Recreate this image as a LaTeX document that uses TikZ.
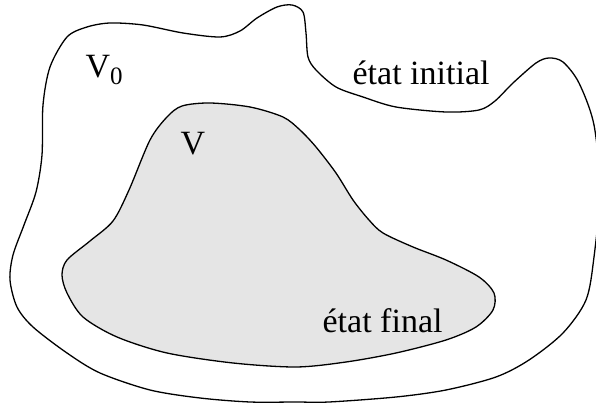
\documentclass[tikz,border=0pt]{standalone}
\usepackage{fontspec}
\setmainfont{Liberation Serif}
\begin{document}
\begin{tikzpicture}[x=0.5pt,y=-0.5pt, line width=0.65pt,
  lbl/.style={inner sep=0pt, anchor=base west, font=\fontsize{17}{20}\selectfont},
  region/.style={draw=black, line join=round}]
\useasboundingbox (0,0) rectangle (596,405);
\clip (0,0) rectangle (596,405);
% outer set V0
\draw[region] plot[smooth cycle, tension=0.5] coordinates {
 (43,105) (50,67) (67,37) (87,27) (110,23) (143,25) (183,33) (220,37) (240,31)
 (257,18) (277,7) (292,5) (303,12) (306,33) (308,57) (316,70) (336,87) (363,97)
 (396,107) (446,112) (479,110) (495,101) (513,83) (536,63) (549,58) (563,62)
 (579,83) (594,125) (600,190) (594,257) (586,300) (563,333) (529,360) (496,377)
 (446,390) (396,397) (329,402) (296,402) (250,402) (200,398) (150,390) (100,373)
 (67,353) (33,327) (17,307) (10,280) (13,255) (24,225) (36,192) (42,155)};
% inner set V
\filldraw[region, fill=black!10] plot[smooth cycle, tension=0.5] coordinates {
 (210,103) (250,107) (283,117) (300,130) (316,147) (336,173) (353,200) (369,220)
 (383,233) (413,247) (446,260) (479,277) (494,293) (493,310) (476,327) (446,340)
 (396,353) (346,362) (296,367) (233,363) (167,353) (117,337) (83,317) (67,293)
 (62,275) (67,260) (90,241) (113,221) (129,190) (150,140) (167,117) (182,106)};
\node[lbl] (v0) at (85,78) {V\raisebox{-3.5pt}{\fontsize{12.5}{14}\selectfont 0}};
\node[lbl] (v) at (180,155) {V};
\node[lbl] (init) at (352,85) {état initial};
\node[lbl] (fin) at (322,333) {état final};
\end{tikzpicture}
\end{document}
